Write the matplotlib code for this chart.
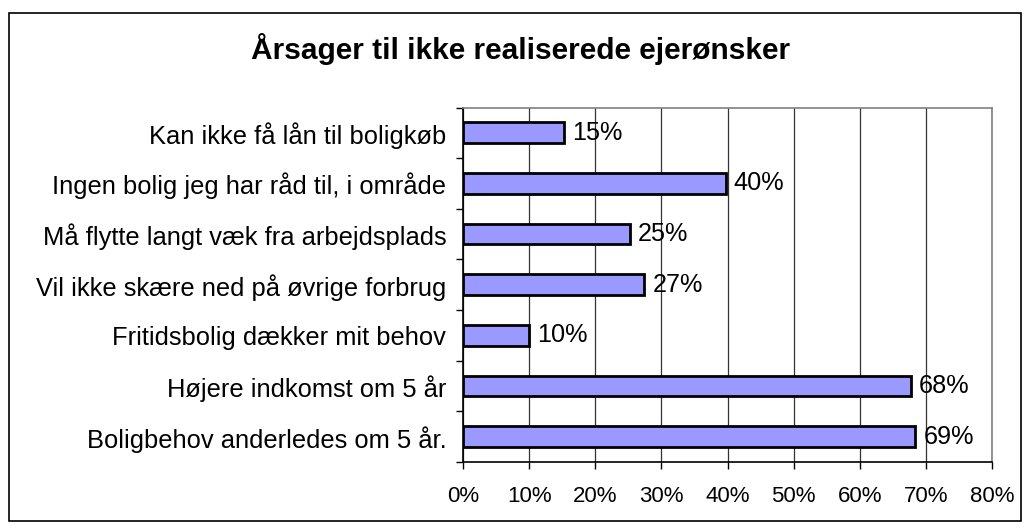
import matplotlib
matplotlib.use("Agg")
import matplotlib.pyplot as plt
from matplotlib.patches import Rectangle
import numpy as np

categories = [
    "Kan ikke få lån til boligkøb",
    "Ingen bolig jeg har råd til, i område",
    "Må flytte langt væk fra arbejdsplads",
    "Vil ikke skære ned på øvrige forbrug",
    "Fritidsbolig dækker mit behov",
    "Højere indkomst om 5 år",
    "Boligbehov anderledes om 5 år.",
]
values = [15.2, 39.7, 25.2, 27.4, 10.0, 67.7, 68.4]
value_labels = ["15%", "40%", "25%", "27%", "10%", "68%", "69%"]
xticks = [0, 10, 20, 30, 40, 50, 60, 70, 80]
xtick_labels = ["0%", "10%", "20%", "30%", "40%", "50%", "60%", "70%", "80%"]

plt.rcParams['font.family'] = ['Liberation Sans', 'DejaVu Sans']

fig = plt.figure(figsize=(10.29, 5.30), dpi=100)
fig.patches.append(Rectangle((9/1029, 1 - 521/530), (1021-9)/1029, (521-13)/530,
                             transform=fig.transFigure, fill=False,
                             edgecolor='black', linewidth=1.2))

ax = fig.add_axes([463/1029, 1 - 462/530, (992-463)/1029, (462-107.5)/530])

n = len(categories)
ypos = np.arange(n)
ax.barh(ypos, values, height=0.41, color='#9999FF', edgecolor='black', linewidth=2, zorder=3)
for y, v, lab in zip(ypos, values, value_labels):
    ax.annotate(lab, xy=(v, y), xytext=(6, 0), textcoords='offset points',
                va='center', ha='left', fontsize=18.2, zorder=4)

ax.set_xlim(0, 80)
ax.set_ylim(n - 0.5, -0.5)
ax.set_xticks(xticks)
ax.set_xticklabels(xtick_labels, fontsize=16)
ax.set_yticks(ypos)
ax.set_yticklabels(categories, fontsize=18.4)
ax.tick_params(axis='y', length=0, pad=12)
ax.set_yticks(np.arange(-0.5, n, 1), minor=True)
ax.tick_params(axis='y', which='minor', length=5, direction='out', width=1)
ax.tick_params(axis='x', length=5, direction='out', width=1, pad=12)

ax.grid(axis='x', color='#333333', linewidth=0.9, zorder=0)
ax.set_axisbelow(True)
for s in ['top', 'right']:
    ax.spines[s].set_color('#808080')
    ax.spines[s].set_linewidth(1.2)
for s in ['left', 'bottom']:
    ax.spines[s].set_color('black')
    ax.spines[s].set_linewidth(1.2)

fig.text(521/1029, 1 - 49/530, "Årsager til ikke realiserede ejerønsker",
         ha='center', va='center', fontsize=21.5, fontweight='bold')

fig.savefig("out.png", dpi=100)
